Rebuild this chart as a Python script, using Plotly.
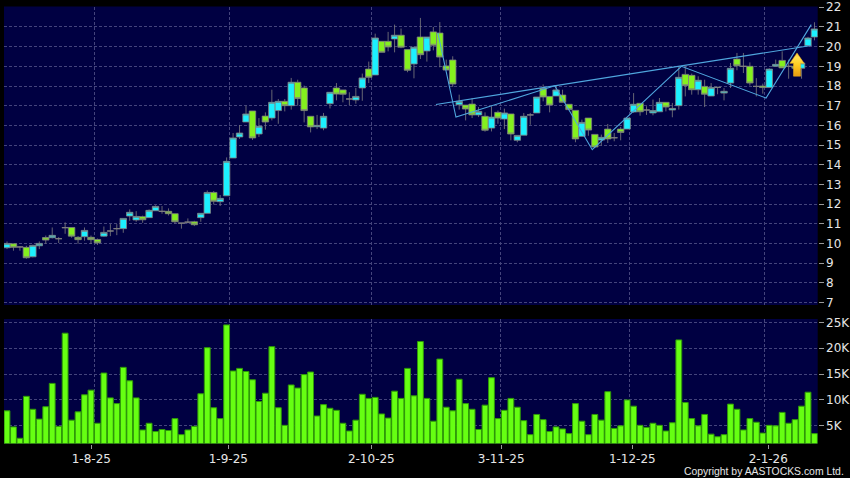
"""AASTOCKS style daily chart, candles above and volume below"""

import plotly.graph_objects as go

W, H = 850, 478

opens = [
    9.78, 9.98, 9.82, 9.80, 9.32, 9.88, 10.30, 10.29, 10.24, 10.80,
    10.81, 10.31, 10.34, 10.31, 10.20, 10.37, 10.63, 10.75, 10.75, 11.39,
    11.19, 11.36, 11.31, 11.66, 11.63, 11.63, 11.51, 11.03, 11.08, 11.10,
    11.31, 11.53, 12.59, 12.12, 12.42, 14.34, 15.41, 16.17, 16.73, 15.56,
    16.47, 16.37, 16.75, 17.22, 17.00, 18.19, 17.90, 16.46, 15.93, 15.86,
    17.10, 17.90, 17.80, 17.34, 17.29, 17.90, 18.86, 18.56, 20.27, 20.27,
    20.39, 20.58, 19.85, 19.12, 20.49, 19.78, 20.75, 20.69, 19.02, 19.32,
    17.05, 17.03, 17.08, 16.53, 16.46, 15.86, 16.66, 16.32, 16.58, 15.24,
    15.50, 16.53, 16.63, 17.88, 17.47, 17.49, 17.54, 17.07, 16.76, 15.44,
    16.37, 15.54, 15.25, 15.81, 15.37, 15.81, 15.81, 16.68, 17.12, 16.78,
    16.63, 16.69, 17.17, 16.78, 17.00, 18.59, 18.54, 17.81, 17.98, 17.49,
    17.93, 17.64, 18.15, 19.37, 19.00, 19.00, 17.98, 18.00, 17.92, 19.00,
    19.30, 19.00, 19.00, 18.90, 20.05, 20.49,
]
highs = [
    10.10, 9.98, 9.86, 9.88, 9.93, 10.10, 10.40, 10.81, 10.32, 11.07,
    10.81, 10.37, 10.81, 10.40, 10.25, 10.86, 10.98, 10.98, 11.27, 11.73,
    11.64, 11.41, 11.73, 11.93, 11.90, 11.78, 11.51, 11.03, 11.27, 11.15,
    11.53, 12.69, 12.66, 12.46, 14.37, 15.61, 16.02, 17.00, 16.73, 16.37,
    16.66, 17.81, 17.34, 17.34, 18.41, 18.32, 18.02, 16.46, 16.53, 16.63,
    17.68, 18.15, 17.80, 17.68, 17.90, 18.63, 19.24, 20.66, 20.27, 20.75,
    21.12, 20.92, 19.85, 19.97, 21.46, 20.49, 21.00, 21.25, 19.34, 19.51,
    17.56, 17.03, 17.39, 16.93, 16.66, 16.97, 16.75, 16.85, 16.58, 15.49,
    16.63, 16.63, 17.44, 18.08, 17.47, 18.02, 17.81, 17.07, 16.76, 16.29,
    16.37, 15.54, 15.53, 16.07, 15.61, 15.92, 16.37, 17.64, 17.12, 16.97,
    17.31, 17.39, 17.17, 17.14, 19.00, 19.00, 18.63, 18.49, 18.32, 18.15,
    17.93, 17.90, 19.17, 19.68, 19.68, 19.20, 18.40, 18.12, 18.90, 19.34,
    19.76, 19.34, 19.00, 19.34, 20.50, 21.24,
]
lows = [
    9.71, 9.63, 9.63, 9.22, 9.29, 9.71, 9.98, 10.25, 10.02, 10.49,
    10.29, 9.98, 10.14, 9.97, 9.92, 10.34, 10.37, 10.42, 10.54, 11.15,
    11.10, 11.05, 11.31, 11.66, 11.51, 11.42, 11.00, 10.75, 11.02, 10.88,
    11.10, 11.53, 11.98, 11.90, 12.42, 14.34, 15.31, 16.17, 15.26, 15.41,
    15.78, 16.25, 16.08, 16.71, 16.80, 17.00, 16.15, 15.64, 15.81, 15.75,
    16.86, 17.27, 17.17, 17.03, 17.10, 17.25, 18.15, 18.56, 19.71, 19.76,
    19.71, 19.92, 18.70, 18.39, 19.37, 19.24, 19.81, 18.95, 18.81, 17.95,
    16.80, 16.25, 16.37, 16.42, 15.68, 15.69, 16.08, 15.81, 15.24, 15.14,
    15.50, 16.03, 16.63, 17.22, 16.66, 17.49, 17.17, 16.80, 15.14, 15.44,
    15.47, 14.85, 14.97, 15.10, 15.19, 15.24, 15.81, 16.63, 16.49, 16.53,
    16.51, 16.69, 16.71, 16.41, 16.80, 17.47, 17.56, 17.56, 16.93, 17.49,
    17.58, 17.27, 17.90, 18.80, 18.66, 18.02, 17.47, 17.61, 17.92, 19.00,
    18.92, 18.37, 18.90, 18.37, 20.05, 20.32,
]
closes = [
    10.00, 9.80, 9.82, 9.27, 9.90, 10.00, 10.17, 10.41, 10.24, 10.80,
    10.37, 10.19, 10.66, 10.19, 10.03, 10.56, 10.63, 10.75, 11.27, 11.58,
    11.37, 11.20, 11.68, 11.88, 11.63, 11.51, 11.10, 11.03, 11.08, 10.95,
    11.53, 12.59, 12.14, 12.29, 14.17, 15.36, 15.61, 16.58, 15.36, 15.95,
    16.17, 17.17, 17.22, 17.00, 18.19, 17.36, 16.75, 15.92, 16.00, 16.46,
    17.68, 17.59, 17.58, 17.34, 17.47, 18.41, 18.44, 20.44, 19.71, 19.98,
    20.58, 19.97, 18.80, 19.97, 19.59, 20.49, 20.07, 19.47, 18.81, 18.10,
    17.22, 16.83, 16.53, 16.71, 15.75, 16.42, 16.37, 16.63, 15.56, 15.49,
    16.46, 16.53, 17.44, 17.44, 17.03, 17.80, 17.17, 16.80, 15.31, 16.15,
    15.76, 14.90, 15.39, 15.31, 15.37, 15.64, 16.37, 17.07, 16.69, 16.78,
    16.75, 17.17, 16.93, 16.86, 18.44, 18.02, 17.81, 18.29, 17.58, 17.92,
    17.93, 17.73, 18.90, 19.03, 19.00, 18.15, 17.98, 17.92, 18.86, 19.10,
    18.92, 19.00, 18.90, 19.17, 20.44, 20.90,
]
volumes = [
    7.9, 4.8, 2.6, 10.7, 8.2, 6.3, 8.7, 13.2, 4.9, 22.9,
    6.1, 7.7, 11.0, 11.9, 5.5, 15.2, 10.4, 9.3, 16.3, 13.7,
    10.4, 4.2, 5.5, 3.9, 4.3, 4.1, 6.4, 3.3, 4.2, 4.9,
    11.2, 20.1, 8.5, 6.4, 24.5, 15.6, 16.1, 15.5, 13.9, 9.7,
    11.3, 20.3, 8.5, 5.1, 12.9, 12.3, 14.9, 15.4, 6.9, 9.1,
    8.4, 8.0, 5.5, 4.0, 6.1, 11.1, 10.3, 10.5, 7.3, 6.5,
    11.7, 10.3, 16.1, 10.8, 21.3, 10.3, 5.9, 17.9, 8.6, 7.9,
    14.0, 9.3, 8.2, 4.3, 9.0, 14.3, 6.4, 8.0, 10.3, 8.6,
    6.0, 3.3, 7.2, 6.2, 3.9, 4.8, 4.4, 3.5, 9.3, 5.9,
    3.3, 7.2, 6.1, 11.6, 4.5, 5.0, 10.0, 8.8, 5.1, 4.7,
    5.5, 5.1, 4.0, 5.6, 21.6, 9.5, 6.4, 5.0, 7.2, 3.4,
    2.9, 3.3, 9.2, 8.2, 4.2, 6.4, 5.7, 3.6, 5.1, 5.0,
    7.6, 5.5, 6.2, 8.8, 11.5, 3.5,
]
bars = list(range(1, len(closes) + 1))

# zigzag and long trend line, in bar number / price
zigzag_bars = [67.7, 70.5, 85.8, 91.6, 105.4, 118.5, 125.5]
zigzag_prices = [20.7, 16.42, 18.01, 14.76, 19.0, 17.39, 21.12]
trend_bars = [67.4, 125.5]
trend_prices = [17.06, 20.06]

arrow_bars = [123.3, 124.4, 123.85, 123.85, 122.75, 122.75, 122.2, 123.3]
arrow_prices = [19.68, 19.15, 19.15, 18.5, 18.5, 19.15, 19.15, 19.68]

price_ticks = list(range(7, 23))
volume_ticks = [5, 10, 15, 20, 25]
volume_labels = ["5K", "10K", "15K", "20K", "25K"]
date_ticks = [14.05, 35.26, 57.4, 77.5, 97.8, 118.85]
date_labels = ["1-8-25", "1-9-25", "2-10-25", "3-11-25", "1-12-25", "2-1-26"]
grid_bars = [14.5, 35.4, 57.45, 77.4, 97.3, 118.3]

BG = "#000000"
NAVY = "#000042"
GRID = "#44447c"
WICK = "#808080"
CYAN = "#1CF0FF"
GREEN = "#84F01E"
VOL = "#66FF12"
VOL_EDGE = "#2F9A08"
LINE = "#4FA6DE"
FONT = "DejaVu Sans"
DASH = "3px,2px"

fig = go.Figure()
fig.add_trace(go.Candlestick(
    x=bars, open=opens, high=highs, low=lows, close=closes,
    increasing=dict(fillcolor=CYAN, line=dict(color=WICK, width=0.8)),
    decreasing=dict(fillcolor=GREEN, line=dict(color=WICK, width=0.8)),
    whiskerwidth=0,
    xaxis="x", yaxis="y",
))
fig.add_trace(go.Scatter(
    x=trend_bars, y=trend_prices, mode="lines",
    line=dict(color=LINE, width=1.1), xaxis="x", yaxis="y",
))
fig.add_trace(go.Scatter(
    x=zigzag_bars, y=zigzag_prices, mode="lines",
    line=dict(color=LINE, width=1.1), xaxis="x", yaxis="y",
))
fig.add_trace(go.Scatter(
    x=arrow_bars, y=arrow_prices, mode="lines", fill="toself",
    line=dict(color="#F0B020", width=0.5),
    fillgradient=dict(
        type="vertical",
        colorscale=[[0, "#E89A10"], [0.5, "#FFCC22"], [0.8, "#FFE050"], [1, "#FFC828"]],
    ),
    xaxis="x", yaxis="y",
))
fig.add_trace(go.Bar(
    x=bars, y=volumes,
    marker=dict(color=VOL, line=dict(color=VOL_EDGE, width=1)),
    xaxis="x2", yaxis="y2",
))

x_common = dict(
    range=[0.536, 126.5],
    domain=[4 / W, 817.7 / W],
    automargin=False,
    showgrid=False,
    zeroline=False,
    showline=False,
    tickvals=date_ticks,
    ticktext=date_labels,
    minor=dict(
        tickvals=grid_bars, showgrid=True, gridcolor=GRID,
        griddash=DASH, gridwidth=1, ticks="",
    ),
)
y_common = dict(
    side="right",
    automargin=False,
    showgrid=True,
    gridcolor=GRID,
    griddash=DASH,
    gridwidth=1,
    zeroline=False,
    showline=False,
    ticks="outside",
    ticklen=5,
    tickcolor="#9a9a9a",
    tickfont=dict(family=FONT, size=12, color="#E6E6E6"),
)

fig.update_layout(
    width=W,
    height=H,
    margin=dict(l=0, r=0, t=0, b=0),
    paper_bgcolor=BG,
    plot_bgcolor=NAVY,
    showlegend=False,
    boxgap=0,
    boxgroupgap=0,
    bargap=0.1,
    xaxis=dict(
        **x_common, anchor="y", showticklabels=False, ticks="",
        rangeslider=dict(visible=False),
    ),
    xaxis2=dict(
        **x_common, anchor="y2", ticks="outside", ticklen=4,
        tickcolor="#9a9a9a",
        tickfont=dict(family=FONT, size=12, color="#E6E6E6"),
    ),
    yaxis=dict(
        **y_common, anchor="x",
        domain=[1 - 305 / H, 1 - 6.5 / H],
        range=[6.87, 22.04],
        tickvals=price_ticks,
    ),
    yaxis2=dict(
        **y_common, anchor="x2",
        domain=[1 - 443.5 / H, 1 - 319 / H],
        range=[1.59, 25.64],
        tickvals=volume_ticks,
        ticktext=volume_labels,
    ),
)
fig.add_annotation(
    text="Copyright by AASTOCKS.com Ltd.",
    xref="paper", yref="paper", x=846 / W, y=1 - 471 / H,
    xanchor="right", yanchor="middle", showarrow=False,
    font=dict(family="Liberation Sans", size=10.4, color="#E6E6E6"),
)

fig.write_html(
    "out.html",
    config=dict(displayModeBar=False),
    post_script="document.body.style.margin='0';",
)
